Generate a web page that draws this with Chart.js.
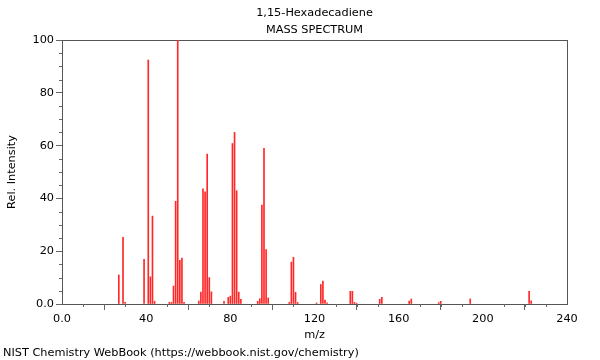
<!DOCTYPE html>
<html>
<head>
<meta charset="utf-8">
<script src="https://cdn.jsdelivr.net/npm/chart.js@4/dist/chart.umd.min.js"></script>
<style>
  html, body { margin: 0; padding: 0; background: #fff; }
  #wrap { width: 600px; height: 360px; }
</style>
</head>
<body>
<div id="wrap"><canvas id="c" width="600" height="360"></canvas></div>
<script>
// ---- data ----
const chartTitle = ['1,15-Hexadecadiene', 'MASS SPECTRUM'];
const footerText = 'NIST Chemistry WebBook (https://webbook.nist.gov/chemistry)';
const xAxisTitle = 'm/z';
const yAxisTitle = 'Rel. Intensity';

const mzValues = [27, 29, 30, 39, 41, 42, 43, 44, 51, 52, 53, 54, 55, 56, 57, 58,
  65, 66, 67, 68, 69, 70, 71, 77, 79, 80, 81, 82, 83, 84, 85,
  93, 94, 95, 96, 97, 98, 108, 109, 110, 111, 112,
  121, 123, 124, 125, 126, 137, 138, 139, 140,
  151, 152, 165, 166, 179, 180, 194, 222, 223];
const intensities = [11, 25.3, 0.6, 16.9, 92.4, 10.3, 33.3, 1.0, 0.6, 0.6, 6.8, 38.9, 100, 16.5, 17.4, 0.6,
  1.1, 4.5, 43.6, 42.5, 56.8, 10, 4.6, 1.0, 2.5, 3.0, 60.8, 65, 42.9, 4.5, 1.8,
  1.0, 2.0, 37.5, 59, 20.6, 2.3, 0.6, 15.9, 17.7, 4.4, 0.6,
  0.4, 7.4, 8.7, 1.5, 0.4, 4.8, 4.8, 0.6, 0.3,
  1.8, 2.5, 1.1, 1.9, 0.5, 1.0, 1.9, 4.8, 1.2];

const xMin = 0, xMax = 240, xMajorStep = 40, xMinorStep = 10;
const yMin = 0, yMax = 100, yMajorStep = 20, yMinorStep = 5;

// ---- chart ----
const FONT = 'DejaVu Sans';
const FS = 11.3;
const axisColor = '#555';
const tickColor = '#666';

const points = mzValues.map((m, i) => ({ x: m, y: intensities[i] }));

const fmt = v => (v === 0 ? '0.0' : String(v));

const decorPlugin = {
  id: 'decor',
  afterDraw(chart) {
    const ctx = chart.ctx;
    const xs = chart.scales.x, ys = chart.scales.y;
    const area = chart.chartArea;
    ctx.save();
    // minor ticks
    ctx.strokeStyle = tickColor;
    ctx.lineWidth = 1;
    ctx.beginPath();
    for (let v = xMin; v <= xMax; v += xMinorStep) {
      if (v % xMajorStep === 0) continue;
      const px = Math.round(xs.getPixelForValue(v)) + 0.5;
      ctx.moveTo(px, area.bottom);
      ctx.lineTo(px, area.bottom + 3);
    }
    for (let v = yMin; v <= yMax; v += yMinorStep) {
      if (v % yMajorStep === 0) continue;
      const py = Math.round(ys.getPixelForValue(v)) + 0.5;
      ctx.moveTo(area.left, py);
      ctx.lineTo(area.left - 3, py);
    }
    ctx.stroke();
    // titles
    ctx.fillStyle = '#000';
    ctx.font = FS + 'px "' + FONT + '"';
    ctx.textAlign = 'center';
    ctx.textBaseline = 'middle';
    const cx = (area.left + area.right) / 2;
    ctx.fillText(chartTitle[0], cx, 13);
    ctx.fillText(chartTitle[1], cx, 30);
    ctx.textAlign = 'left';
    ctx.fillText(footerText, 3, 353);
    ctx.restore();
  }
};

new Chart(document.getElementById('c'), {
  type: 'bar',
  data: {
    datasets: [{
      data: points,
      backgroundColor: 'rgb(255,40,40)',
      borderWidth: 0,
      barThickness: 1,
      grouped: false
    }]
  },
  options: {
    responsive: false,
    animation: false,
    devicePixelRatio: 1,
    layout: { padding: { top: 40, right: 33, bottom: 20, left: 0 } },
    plugins: {
      legend: { display: false },
      title: { display: false },
      tooltip: { enabled: false }
    },
    scales: {
      x: {
        type: 'linear',
        position: 'bottom',
        min: xMin, max: xMax,
        offset: false,
        afterFit(s) { s.height = 36; },
        ticks: {
          stepSize: xMajorStep,
          callback: fmt,
          color: '#000',
          font: { family: FONT, size: FS },
          padding: 2,
          maxRotation: 0
        },
        grid: { display: true, drawOnChartArea: false, tickLength: 6, color: tickColor },
        border: { display: true, color: axisColor },
        title: {
          display: true, text: xAxisTitle, color: '#000',
          font: { family: FONT, size: FS },
          padding: { top: 0, bottom: -2 }
        }
      },
      y: {
        type: 'linear',
        position: 'left',
        min: yMin, max: yMax,
        afterFit(s) { s.width = 62; },
        ticks: {
          stepSize: yMajorStep,
          callback: fmt,
          color: '#000',
          font: { family: FONT, size: FS },
          padding: 2
        },
        grid: { display: true, drawOnChartArea: false, tickLength: 6, color: tickColor },
        border: { display: true, color: axisColor },
        title: {
          display: true, text: yAxisTitle, color: '#000',
          font: { family: FONT, size: FS },
          padding: { top: 5, bottom: 0 }
        }
      },
      xTop: {
        type: 'linear',
        position: 'top',
        min: xMin, max: xMax,
        afterFit(s) { s.height = 0; },
        ticks: { display: false },
        grid: { display: false },
        border: { display: true, color: axisColor }
      },
      yRight: {
        type: 'linear',
        position: 'right',
        min: yMin, max: yMax,
        afterFit(s) { s.width = 0; },
        ticks: { display: false },
        grid: { display: false },
        border: { display: true, color: axisColor }
      }
    }
  },
  plugins: [decorPlugin]
});
</script>
</body>
</html>
